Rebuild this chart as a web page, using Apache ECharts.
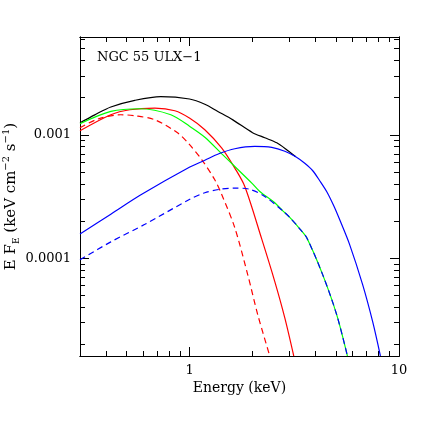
<!DOCTYPE html>
<html>
<head>
<meta charset="utf-8">
<script src="https://cdn.jsdelivr.net/npm/echarts@6/dist/echarts.min.js"></script>
<style>
  html, body { margin: 0; padding: 0; background: #fff; }
  #chart { width: 436px; height: 436px; }
</style>
</head>
<body>
<div id="chart"></div>
<script>
// axis ranges and ticks
var xMin = 0.3, xMax = 10;
var yMin = 1.61e-5, yMax = 6.2e-3;
var xMajor = [1, 10];
var xMinor = [0.4, 0.5, 0.6, 0.7, 0.8, 0.9, 2, 3, 4, 5, 6, 7, 8, 9];
var yMajor = [1e-4, 1e-3];
var yMinor = [2e-5, 3e-5, 4e-5, 5e-5, 6e-5, 7e-5, 8e-5, 9e-5,
              2e-4, 3e-4, 4e-4, 5e-4, 6e-4, 7e-4, 8e-4, 9e-4,
              2e-3, 3e-3, 4e-3, 5e-3, 6e-3];
var xTickLabels = ['1', '10'];
var yTickLabels = ['0.0001', '0.001'];

// total model (black)
var totalE = [0.30, 0.353, 0.421, 0.548, 0.729, 1.00, 1.183, 1.365, 1.61, 2.00, 2.287, 2.61, 2.94, 3.215];
var totalF = [1.25e-3, 1.45e-3, 1.68e-3, 1.90e-3, 2.04e-3, 1.95e-3, 1.768e-3, 1.545e-3, 1.32e-3, 1.04e-3, 9.46e-4, 8.6e-4, 7.46e-4, 6.63e-4];

// red solid
var redE = [0.30, 0.421, 0.519, 0.683, 0.851, 1.003, 1.183, 1.426, 1.645, 1.836, 2.205, 2.553, 2.85, 3.145];
var redF = [1.077e-3, 1.453e-3, 1.595e-3, 1.646e-3, 1.566e-3, 1.361e-3, 1.098e-3, 7.8e-4, 5.37e-4, 3.81e-4, 1.453e-4, 6.46e-5, 3.28e-5, 1.61e-5];

// red dashed
var redDashE = [0.30, 0.365, 0.47, 0.548, 0.683, 0.88, 0.992, 1.145, 1.32, 1.426, 1.645, 1.897, 2.118, 2.416];
var redDashF = [1.14e-3, 1.341e-3, 1.453e-3, 1.426e-3, 1.323e-3, 1.032e-3, 8.45e-4, 6.27e-4, 4.315e-4, 3.262e-4, 1.761e-4, 7.32e-5, 3.47e-5, 1.61e-5];

// green
var greenE = [0.30, 0.421, 0.579, 0.814, 1.003, 1.183, 1.426, 1.645, 1.983, 2.165, 2.553, 2.787, 3.009, 3.359, 3.628, 4.325, 5.044, 5.673];
var greenF = [1.228e-3, 1.545e-3, 1.625e-3, 1.453e-3, 1.168e-3, 9.55e-4, 7.0e-4, 5.53e-4, 4.06e-4, 3.47e-4, 2.81e-4, 2.418e-4, 2.142e-4, 1.729e-4, 1.461e-4, 7.32e-5, 3.47e-5, 1.61e-5];

// blue solid
var blueE = [0.30, 0.421, 0.586, 1.003, 1.183, 1.38, 1.645, 2.05, 2.47, 2.85, 3.215, 3.549, 3.875, 4.183, 4.521, 4.881, 5.213, 5.818, 6.711, 7.491, 8.152];
var blueF = [1.57e-4, 2.27e-4, 3.26e-4, 5.47e-4, 6.21e-4, 7.01e-4, 7.7e-4, 8.04e-4, 7.89e-4, 7.35e-4, 6.63e-4, 5.87e-4, 5.11e-4, 4.24e-4, 3.45e-4, 2.655e-4, 2.044e-4, 1.282e-4, 6.07e-5, 3.04e-5, 1.61e-5];

// blue dashed
var blueDashE = [0.30, 0.421, 0.612, 1.003, 1.183, 1.395, 1.645, 1.94, 2.287, 2.787, 3.009, 3.359, 3.628, 4.325, 5.044, 5.673];
var blueDashF = [9.69e-5, 1.355e-4, 1.879e-4, 2.998e-4, 3.386e-4, 3.614e-4, 3.695e-4, 3.614e-4, 3.159e-4, 2.418e-4, 2.142e-4, 1.729e-4, 1.461e-4, 7.32e-5, 3.47e-5, 1.61e-5];

var font = 'DejaVu Serif';

function pairs(xs, ys) {
    var out = [];
    for (var i = 0; i < xs.length; i++) out.push([xs[i], ys[i]]);
    return out;
}

function pickLabel(values, labels) {
    return function (v) {
        for (var i = 0; i < values.length; i++) {
            if (Math.abs(Math.log10(v) - Math.log10(values[i])) < 1e-6) return labels[i];
        }
        return '';
    };
}

function axis(kind, min, max, position, ticks, len, labelled, extra) {
    var a = {
        type: 'log',
        min: min,
        max: max,
        position: position,
        axisLine: { show: true, lineStyle: { color: '#000', width: 1 } },
        axisTick: { show: true, inside: true, length: len, customValues: ticks,
                    lineStyle: { color: '#000', width: 1 } },
        axisLabel: { show: false },
        splitLine: { show: false }
    };
    if (labelled) {
        a.axisLabel = {
            show: true,
            customValues: ticks,
            formatter: kind === 'x' ? pickLabel(xMajor, xTickLabels) : pickLabel(yMajor, yTickLabels),
            fontFamily: font,
            fontSize: 13,
            color: '#000',
            margin: kind === 'x' ? 8 : 9
        };
    }
    for (var k in extra) a[k] = extra[k];
    return a;
}

var chart = echarts.init(document.getElementById('chart'));

function line(data, color, dashed, z) {
    return {
        type: 'line',
        data: data,
        xAxisIndex: 0,
        yAxisIndex: 0,
        showSymbol: false,
        symbol: 'none',
        smooth: 0.3,
        clip: true,
        z: z,
        lineStyle: { color: color, width: 1.2, type: dashed ? [6, 4] : 'solid' },
        silent: true
    };
}

chart.setOption({
    animation: false,
    backgroundColor: '#fff',
    title: {
        text: 'NGC 55 ULX\u22121',
        left: 92,
        top: 46,
        textStyle: { fontFamily: font, fontSize: 13, fontWeight: 'normal', color: '#000' }
    },
    grid: { left: 80, top: 37, width: 319, height: 319, outerBoundsMode: 'none', containLabel: false },
    xAxis: [
        axis('x', xMin, xMax, 'bottom', xMajor, 9, true, {
            name: 'Energy (keV)',
            nameLocation: 'middle',
            nameGap: 25,
            nameMoveOverlap: false,
            nameTextStyle: { fontFamily: font, fontSize: 14, color: '#000' }
        }),
        axis('x', xMin, xMax, 'bottom', xMinor, 5, false, {}),
        axis('x', xMin, xMax, 'top', xMajor, 9, false, {}),
        axis('x', xMin, xMax, 'top', xMinor, 5, false, {})
    ],
    yAxis: [
        axis('y', yMin, yMax, 'left', yMajor, 9, true, {
            name: '{t|E F}{sub|E}{t| (keV cm}{sup|\u22122}{t| s}{sup|\u22121}{t|)}',
            nameLocation: 'middle',
            nameGap: 59,
            nameMoveOverlap: false,
            nameTextStyle: {
                fontFamily: font, fontSize: 15, color: '#000',
                rich: {
                    t: { fontFamily: font, fontSize: 15, color: '#000', lineHeight: 20, verticalAlign: 'middle' },
                    sub: { fontFamily: font, fontSize: 9, color: '#000', lineHeight: 20, verticalAlign: 'bottom' },
                    sup: { fontFamily: font, fontSize: 10, color: '#000', lineHeight: 20, verticalAlign: 'top' }
                }
            }
        }),
        axis('y', yMin, yMax, 'left', yMinor, 5, false, {}),
        axis('y', yMin, yMax, 'right', yMajor, 9, false, {}),
        axis('y', yMin, yMax, 'right', yMinor, 5, false, {})
    ],
    series: [
        line(pairs(totalE, totalF), '#000000', false, 2),
        line(pairs(redDashE, redDashF), '#ff0000', true, 3),
        line(pairs(redE, redF), '#ff0000', false, 3),
        line(pairs(greenE, greenF), '#00ff00', false, 4),
        line(pairs(blueDashE, blueDashF), '#0000ff', true, 5),
        line(pairs(blueE, blueF), '#0000ff', false, 5)
    ]
});
</script>
</body>
</html>
